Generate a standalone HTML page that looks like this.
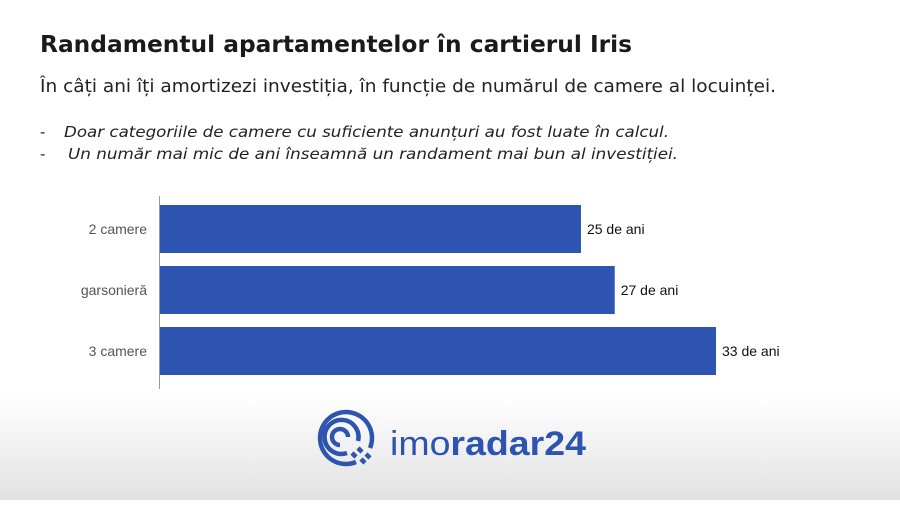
<!DOCTYPE html>
<html><head><meta charset="utf-8"><style>
body{margin:0;width:900px;height:500px;overflow:hidden;background:#fff;font-family:"Liberation Sans",sans-serif}
</style></head><body>
<svg width="900" height="500">
<defs><linearGradient id="g" x1="0" y1="0" x2="0" y2="1"><stop offset="0" stop-color="#fff"/><stop offset="1" stop-color="#e2e2e2"/></linearGradient></defs>
<rect x="0" y="396" width="900" height="104" fill="url(#g)"/>
<text x="40" y="52" font-family="DejaVu Sans, sans-serif" font-size="23" font-weight="bold" fill="#1a1a1a" textLength="592" lengthAdjust="spacingAndGlyphs">Randamentul apartamentelor în cartierul Iris</text>
<text x="40" y="92" font-family="DejaVu Sans, sans-serif" font-size="18" fill="#222" textLength="736" lengthAdjust="spacingAndGlyphs">În câți ani îți amortizezi investiția, în funcție de numărul de camere al locuinței.</text>
<text x="40" y="137" font-size="16" fill="#222">-</text>
<text x="64" y="137" font-family="DejaVu Sans, sans-serif" font-size="15" font-style="italic" fill="#222" textLength="605" lengthAdjust="spacingAndGlyphs">Doar categoriile de camere cu suficiente anunțuri au fost luate în calcul.</text>
<text x="40" y="159" font-size="16" fill="#222">-</text>
<text x="68" y="159" font-family="DejaVu Sans, sans-serif" font-size="15" font-style="italic" fill="#222" textLength="610" lengthAdjust="spacingAndGlyphs">Un număr mai mic de ani înseamnă un randament mai bun al investiției.</text>
<g id="bars"></g>
<line x1="159.5" y1="196" x2="159.5" y2="389" stroke="#999" stroke-width="1"/>
<g fill="none" stroke="#2c54b0" stroke-width="4.5">
<path d="M356 462 A26 26 0 1 1 370 448"/>
<path d="M347 453 A17 17 0 1 1 358 441"/>
<path d="M340 445 A8 8 0 1 1 348 437"/>
<path d="M352 453 l4 4 M358 448 l4 4 M361 459 l4 4 M366 454 l4 4"/>
</g>
<text x="390" y="455" font-size="34" fill="#2c54b0" textLength="196" lengthAdjust="spacingAndGlyphs">imo<tspan font-weight="bold">radar24</tspan></text>
</svg>
<script>
const categories=["2 camere","garsonieră","3 camere"];
const values=[25,27,33];
const valueLabels=["25 de ani","27 de ani","33 de ani"];
const x0=159,scale=(716-159)/33;
const xs=v=>x0+v*scale;
const yTop=i=>205+i*61;
const g=document.getElementById('bars');
const ns="http://www.w3.org/2000/svg";
categories.forEach((c,i)=>{
 const r=document.createElementNS(ns,'rect');
 r.setAttribute('x',x0);r.setAttribute('y',yTop(i));r.setAttribute('width',xs(values[i])-x0);r.setAttribute('height',48);r.setAttribute('fill','#2c54b0');
 
 
 g.appendChild(r);
 const t=document.createElementNS(ns,'text');
 t.setAttribute('x',147);t.setAttribute('y',yTop(i)+29);t.setAttribute('text-anchor','end');t.setAttribute('font-size','14');t.setAttribute('fill','#555');t.textContent=c;
 
 
 g.appendChild(t);
 const v=document.createElementNS(ns,'text');
 v.setAttribute('x',xs(values[i])+6);v.setAttribute('y',yTop(i)+29);v.setAttribute('font-size','14');v.setAttribute('fill','#111');v.textContent=valueLabels[i];
 
 
 g.appendChild(v);
});
</script>
</body></html>
